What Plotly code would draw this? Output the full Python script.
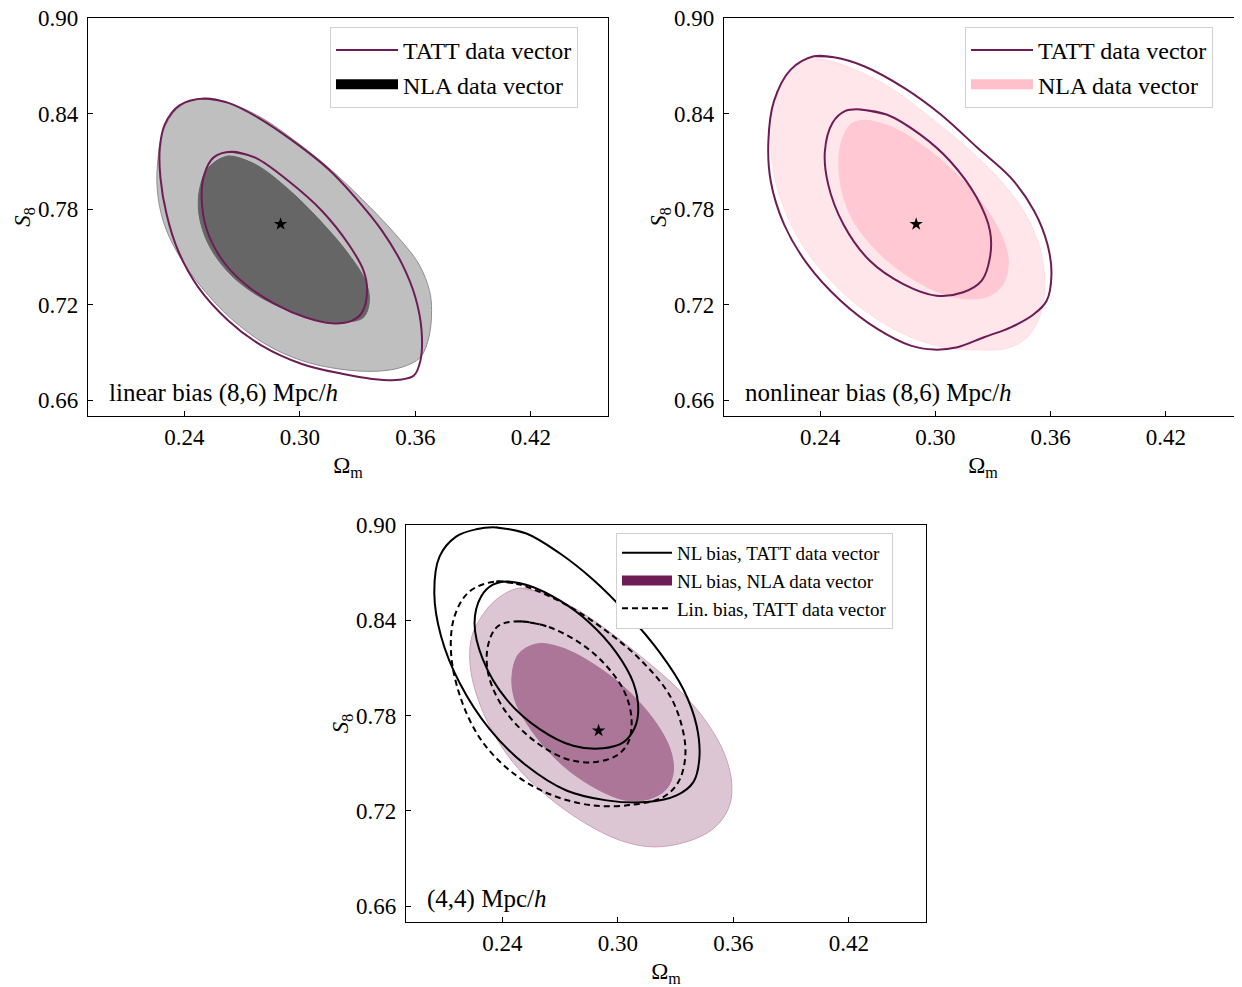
import plotly.graph_objects as go

# ---------------- data (Omega_m, S8) ----------------
fiducial_om = [0.290]
fiducial_s8 = [0.7705]

# Top-left: linear bias (8,6)
tl_nla95_om = [0.2473, 0.2629, 0.2802, 0.2976, 0.3149, 0.3323, 0.3496, 0.3618, 0.3673, 0.3684, 0.3670, 0.3626, 0.3531, 0.3392, 0.3201, 0.3010, 0.2820, 0.2646, 0.2490, 0.2368, 0.2290, 0.2259, 0.2264, 0.2290, 0.2360]
tl_nla95_s8 = [0.8494, 0.8467, 0.8373, 0.8227, 0.8060, 0.7862, 0.7642, 0.7454, 0.7287, 0.7162, 0.6995, 0.6869, 0.6807, 0.6781, 0.6796, 0.6848, 0.6953, 0.7109, 0.7308, 0.7517, 0.7726, 0.7935, 0.8123, 0.8290, 0.8426]
tl_nla68_om = [0.2629, 0.2768, 0.2941, 0.3115, 0.3253, 0.3340, 0.3361, 0.3331, 0.3236, 0.3115, 0.2941, 0.2768, 0.2629, 0.2525, 0.2476, 0.2481, 0.2525]
tl_nla68_s8 = [0.8133, 0.8081, 0.7924, 0.7715, 0.7517, 0.7350, 0.7224, 0.7120, 0.7089, 0.7099, 0.7162, 0.7266, 0.7402, 0.7579, 0.7767, 0.7935, 0.8060]
tl_tatt95_om = [0.2507, 0.2629, 0.2785, 0.2976, 0.3149, 0.3288, 0.3427, 0.3531, 0.3600, 0.3632, 0.3626, 0.3592, 0.3514, 0.3375, 0.3219, 0.3010, 0.2802, 0.2629, 0.2473, 0.2368, 0.2308, 0.2276, 0.2273, 0.2299, 0.2377]
tl_tatt95_s8 = [0.8494, 0.8467, 0.8373, 0.8217, 0.8050, 0.7872, 0.7663, 0.7454, 0.7245, 0.7036, 0.6848, 0.6754, 0.6727, 0.6733, 0.6765, 0.6827, 0.6942, 0.7099, 0.7308, 0.7538, 0.7767, 0.7997, 0.8185, 0.8332, 0.8453]
tl_tatt68_om = [0.2646, 0.2768, 0.2941, 0.3115, 0.3253, 0.3331, 0.3349, 0.3323, 0.3271, 0.3167, 0.3028, 0.2872, 0.2715, 0.2594, 0.2516, 0.2490, 0.2504, 0.2551]
tl_tatt68_s8 = [0.8160, 0.8123, 0.7976, 0.7788, 0.7579, 0.7412, 0.7287, 0.7151, 0.7099, 0.7082, 0.7120, 0.7203, 0.7329, 0.7485, 0.7673, 0.7872, 0.8018, 0.8123]

# Top-right: nonlinear bias (8,6)
tr_nla95_om = [0.2368, 0.2559, 0.2767, 0.2976, 0.3184, 0.3357, 0.3479, 0.3548, 0.3569, 0.3548, 0.3479, 0.3375, 0.3219, 0.3045, 0.2872, 0.2681, 0.2490, 0.2316, 0.2204, 0.2152, 0.2146, 0.2186, 0.2264]
tr_nla95_s8 = [0.8745, 0.8687, 0.8561, 0.8373, 0.8164, 0.7955, 0.7747, 0.7538, 0.7329, 0.7141, 0.6995, 0.6926, 0.6915, 0.6932, 0.6995, 0.7120, 0.7308, 0.7559, 0.7830, 0.8081, 0.8311, 0.8540, 0.8687]
tr_nla68_om = [0.2642, 0.2781, 0.2972, 0.3145, 0.3284, 0.3362, 0.3379, 0.3353, 0.3284, 0.3180, 0.3041, 0.2868, 0.2694, 0.2555, 0.2500, 0.2512, 0.2564]
tr_nla68_s8 = [0.8357, 0.8311, 0.8164, 0.7976, 0.7767, 0.7579, 0.7454, 0.7329, 0.7256, 0.7235, 0.7266, 0.7371, 0.7538, 0.7767, 0.8018, 0.8227, 0.8336]
tr_tatt95_om = [0.2368, 0.2473, 0.2629, 0.2837, 0.3028, 0.3219, 0.3392, 0.3514, 0.3583, 0.3604, 0.3579, 0.3514, 0.3392, 0.3253, 0.3115, 0.2993, 0.2872, 0.2698, 0.2507, 0.2334, 0.2212, 0.2143, 0.2131, 0.2160, 0.2247]
tr_tatt95_s8 = [0.8760, 0.8753, 0.8697, 0.8561, 0.8394, 0.8185, 0.7997, 0.7788, 0.7579, 0.7391, 0.7224, 0.7141, 0.7057, 0.6995, 0.6932, 0.6917, 0.6942, 0.7047, 0.7224, 0.7454, 0.7705, 0.7976, 0.8227, 0.8478, 0.8676]
tr_tatt68_om = [0.2607, 0.2746, 0.2920, 0.3076, 0.3215, 0.3284, 0.3284, 0.3241, 0.3145, 0.3006, 0.2833, 0.2659, 0.2521, 0.2442, 0.2425, 0.2465, 0.2529]
tr_tatt68_s8 = [0.8426, 0.8394, 0.8269, 0.8102, 0.7872, 0.7663, 0.7496, 0.7350, 0.7277, 0.7256, 0.7329, 0.7475, 0.7705, 0.7955, 0.8164, 0.8342, 0.8415]

# Bottom: (4,4)
b_nla95_om = [0.2490, 0.2629, 0.2802, 0.2976, 0.3149, 0.3323, 0.3462, 0.3557, 0.3592, 0.3574, 0.3496, 0.3357, 0.3184, 0.3010, 0.2820, 0.2629, 0.2455, 0.2316, 0.2238, 0.2238, 0.2282, 0.2368]
b_nla95_s8 = [0.8603, 0.8561, 0.8457, 0.8310, 0.8143, 0.7955, 0.7757, 0.7548, 0.7360, 0.7214, 0.7088, 0.7005, 0.6973, 0.7015, 0.7130, 0.7297, 0.7506, 0.7778, 0.8070, 0.8279, 0.8404, 0.8530]
b_nla68_om = [0.2594, 0.2733, 0.2889, 0.3045, 0.3184, 0.3271, 0.3288, 0.3253, 0.3167, 0.3045, 0.2889, 0.2715, 0.2559, 0.2464, 0.2452, 0.2490]
b_nla68_s8 = [0.8254, 0.8216, 0.8112, 0.7966, 0.7778, 0.7590, 0.7443, 0.7339, 0.7276, 0.7266, 0.7339, 0.7485, 0.7694, 0.7903, 0.8070, 0.8195]
b_nl95_om = [0.2368, 0.2525, 0.2698, 0.2872, 0.3045, 0.3219, 0.3340, 0.3409, 0.3423, 0.3392, 0.3305, 0.3149, 0.2941, 0.2733, 0.2525, 0.2334, 0.2178, 0.2082, 0.2047, 0.2074, 0.2160, 0.2264]
b_nl95_s8 = [0.8985, 0.8947, 0.8822, 0.8655, 0.8446, 0.8195, 0.7966, 0.7736, 0.7527, 0.7381, 0.7297, 0.7255, 0.7266, 0.7328, 0.7485, 0.7715, 0.8007, 0.8300, 0.8571, 0.8801, 0.8927, 0.8973]
b_nl68_om = [0.2421, 0.2540, 0.2698, 0.2854, 0.2993, 0.3080, 0.3106, 0.3088, 0.3028, 0.2924, 0.2768, 0.2594, 0.2421, 0.2299, 0.2256, 0.2290, 0.2351]
b_nl68_s8 = [0.8645, 0.8618, 0.8525, 0.8383, 0.8195, 0.8007, 0.7840, 0.7725, 0.7631, 0.7594, 0.7610, 0.7715, 0.7903, 0.8154, 0.8383, 0.8550, 0.8624]
b_lin95_om = [0.2368, 0.2490, 0.2698, 0.2906, 0.3115, 0.3271, 0.3340, 0.3349, 0.3314, 0.3236, 0.3080, 0.2872, 0.2663, 0.2473, 0.2299, 0.2186, 0.2134, 0.2152, 0.2230]
b_lin95_s8 = [0.8645, 0.8625, 0.8520, 0.8363, 0.8154, 0.7924, 0.7694, 0.7527, 0.7381, 0.7287, 0.7239, 0.7234, 0.7297, 0.7422, 0.7631, 0.7903, 0.8195, 0.8425, 0.8582]
b_lin68_om = [0.2490, 0.2629, 0.2802, 0.2941, 0.3036, 0.3071, 0.3054, 0.2993, 0.2872, 0.2733, 0.2577, 0.2421, 0.2330, 0.2325, 0.2377]
b_lin68_s8 = [0.8394, 0.8363, 0.8258, 0.8112, 0.7945, 0.7778, 0.7631, 0.7548, 0.7506, 0.7527, 0.7631, 0.7819, 0.8049, 0.8237, 0.8363]

x_ticks = [0.24, 0.30, 0.36, 0.42]
x_ticklabels = ["0.24", "0.30", "0.36", "0.42"]
y_ticks = [0.66, 0.72, 0.78, 0.84, 0.90]
y_ticklabels = ["0.66", "0.72", "0.78", "0.84", "0.90"]

panel_notes = ["linear bias (8,6) Mpc/<i>h</i>", "nonlinear bias (8,6) Mpc/<i>h</i>", "(4,4) Mpc/<i>h</i>"]

# ---------------- styling ----------------
FONT = "Liberation Serif"
PURPLE = "#6e1c55"
OFF = 8                       # page body margin of the browser
W, H = 1242 - OFF, 987 - OFF  # figure size so the page fills the window


def closed(a):
    return list(a) + [a[0], a[1]]


fig = go.Figure()


def contour(om, s8, xa, ya, fill=None, line="rgba(0,0,0,0)", width=1.0, dash="solid"):
    fig.add_trace(go.Scatter(
        x=closed(om), y=closed(s8), xaxis=xa, yaxis=ya, mode="lines",
        line=dict(color=line, width=width, shape="spline", smoothing=1.0, dash=dash),
        fill="toself" if fill else None, fillcolor=fill, showlegend=False, hoverinfo="skip"))


def legend_entry(name, legend, color, width=2, dash="solid", xa="x", ya="y"):
    fig.add_trace(go.Scatter(x=[None], y=[None], xaxis=xa, yaxis=ya, mode="lines", name=name,
                             line=dict(color=color, width=width, dash=dash), legend=legend))


def star(xa, ya):
    fig.add_trace(go.Scatter(x=fiducial_om, y=fiducial_s8, xaxis=xa, yaxis=ya, mode="markers",
                             marker=dict(symbol="star", size=10, color="black"),
                             showlegend=False, hoverinfo="skip"))


# top-left
contour(tl_nla95_om, tl_nla95_s8, "x", "y", fill="#bfbfbf", line="#8f8f8f", width=1)
contour(tl_nla68_om, tl_nla68_s8, "x", "y", fill="#666666", line="#666666", width=1)
contour(tl_tatt95_om, tl_tatt95_s8, "x", "y", line=PURPLE, width=2)
contour(tl_tatt68_om, tl_tatt68_s8, "x", "y", line=PURPLE, width=2)
star("x", "y")
legend_entry("TATT data vector", "legend", PURPLE, xa="x", ya="y")
legend_entry("NLA data vector", "legend", "#000000", width=18, xa="x", ya="y")

# top-right
contour(tr_nla95_om, tr_nla95_s8, "x2", "y2", fill="#ffe6eb", line="#ffdfe5", width=1)
contour(tr_nla68_om, tr_nla68_s8, "x2", "y2", fill="#ffc8d3", line="#ffc8d3", width=1)
contour(tr_tatt95_om, tr_tatt95_s8, "x2", "y2", line=PURPLE, width=2)
contour(tr_tatt68_om, tr_tatt68_s8, "x2", "y2", line=PURPLE, width=2)
star("x2", "y2")
legend_entry("TATT data vector", "legend2", PURPLE, xa="x2", ya="y2")
legend_entry("NLA data vector", "legend2", "#ffc0cb", width=18, xa="x2", ya="y2")

# bottom
contour(b_nla95_om, b_nla95_s8, "x3", "y3", fill="#dcc6d4", line="#c9a3bb", width=1)
contour(b_nla68_om, b_nla68_s8, "x3", "y3", fill="#ab7698", line="#ab7698", width=1)
contour(b_nl95_om, b_nl95_s8, "x3", "y3", line="black", width=2)
contour(b_nl68_om, b_nl68_s8, "x3", "y3", line="black", width=2)
contour(b_lin95_om, b_lin95_s8, "x3", "y3", line="black", width=2, dash="6px,4px")
contour(b_lin68_om, b_lin68_s8, "x3", "y3", line="black", width=2, dash="6px,4px")
star("x3", "y3")
legend_entry("NL bias, TATT data vector", "legend3", "black", xa="x3", ya="y3")
legend_entry("NL bias, NLA data vector", "legend3", PURPLE, width=15, xa="x3", ya="y3")
legend_entry("Lin. bias, TATT data vector", "legend3", "black", dash="6px,4px", xa="x3", ya="y3")


def px_x(p):
    return (p - OFF) / W


def px_y(p):
    return 1 - (p - OFF) / H


TICK_FS = 23
TITLE_FS = 23


def xaxis(dom, rng, anchor):
    return dict(domain=dom, range=rng, anchor=anchor, tickvals=x_ticks, ticktext=x_ticklabels,
                ticks="inside", ticklen=5, tickwidth=1, tickcolor="black", showgrid=False,
                zeroline=False, showline=True, linecolor="black", linewidth=1.3, mirror=True,
                tickfont=dict(family=FONT, size=TICK_FS, color="black"), ticklabelstandoff=0,
                ticklabeloverflow="allow",
                title=dict(text="Ω<sub>m</sub>", font=dict(family=FONT, size=TITLE_FS, color="black"), standoff=8),
                automargin=False)


def yaxis(dom, anchor, mirror=True):
    return dict(domain=dom, range=[0.65, 0.90002], anchor=anchor, tickvals=y_ticks, ticktext=y_ticklabels,
                ticks="inside", ticklen=5, tickwidth=1, tickcolor="black", showgrid=False,
                zeroline=False, showline=True, linecolor="black", linewidth=1.3, mirror=mirror,
                tickfont=dict(family=FONT, size=TICK_FS, color="black"), ticklabelstandoff=4,
                ticklabeloverflow="allow",
                title=dict(text="<i>S</i><sub>8</sub>", font=dict(family=FONT, size=TITLE_FS, color="black"), standoff=0),
                automargin=False)


legend_common = dict(bgcolor="white", bordercolor="#d0d0d0", borderwidth=1,
                     xanchor="left", yanchor="top", tracegroupgap=0)

note_font = dict(family=FONT, size=25, color="black")

fig.update_layout(
    width=W, height=H, margin=dict(l=0, r=0, t=0, b=0),
    paper_bgcolor="white", plot_bgcolor="white",
    font=dict(family=FONT, color="black"),
    xaxis=xaxis([px_x(88), px_x(608)], [0.19, 0.46], "y"),
    yaxis=yaxis([px_y(416), px_y(18)], "x"),
    xaxis2=xaxis([px_x(724), 1.0], [0.19, 0.19 + 518 / 1921.7], "y2"),
    yaxis2=yaxis([px_y(416), px_y(18)], "x2", mirror=False),
    xaxis3=xaxis([px_x(406), px_x(926)], [0.19, 0.46], "y3"),
    yaxis3=yaxis([px_y(922), px_y(525)], "x3"),
    legend=dict(x=px_x(330), y=px_y(27), itemwidth=62, font=dict(family=FONT, size=24, color="black"), **legend_common),
    legend2=dict(x=px_x(965), y=px_y(27), itemwidth=62, font=dict(family=FONT, size=24, color="black"), **legend_common),
    legend3=dict(x=px_x(616), y=px_y(533), itemwidth=50, font=dict(family=FONT, size=19, color="black"), **legend_common),
    annotations=[
        dict(text=panel_notes[0], xref="x domain", yref="y domain", x=0.037, y=0.018,
             xanchor="left", yanchor="bottom", showarrow=False, font=note_font),
        dict(text=panel_notes[1], xref="x2 domain", yref="y2 domain", x=0.037, y=0.018,
             xanchor="left", yanchor="bottom", showarrow=False, font=note_font),
        dict(text=panel_notes[2], xref="x3 domain", yref="y3 domain", x=0.037, y=0.018,
             xanchor="left", yanchor="bottom", showarrow=False, font=note_font),
    ],
)

fig.write_html("out.html")
